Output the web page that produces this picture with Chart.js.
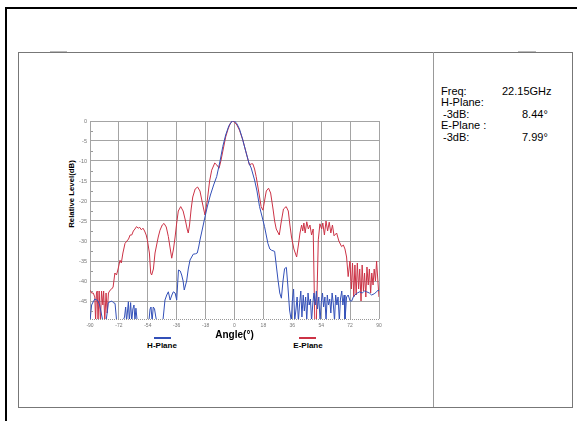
<!DOCTYPE html>
<html>
<head>
<meta charset="utf-8">
<script src="https://cdn.jsdelivr.net/npm/chart.js@4.4.0/dist/chart.umd.min.js"></script>
<style>
body{margin:0;background:#fff;width:577px;height:421px;position:relative;overflow:hidden;font-family:"Liberation Sans",Arial,sans-serif;color:#000}
.abs{position:absolute;white-space:nowrap}
#frameTop{left:5px;top:7px;width:572px;height:2px;background:#000}
#frameLeft{left:5px;top:7px;width:2px;height:414px;background:#000}
#box{left:18px;top:52px;width:553px;height:354px;border:1px solid #777}
#divider{left:433px;top:52px;width:1px;height:355px;background:#999}
.stub{height:1px;background:#bbb;top:51px}
.info{font-size:11px;line-height:13px}
.leg{font-size:8px;font-weight:bold;line-height:10px;transform:translateX(-50%)}
#ytitle{left:72px;top:194px;font-size:7.8px;font-weight:bold;line-height:10px;transform:translate(-50%,-50%) rotate(-90deg)}
#chartBox{left:60px;top:112px;width:330px;height:250px}
</style>
</head>
<body>
<div class="abs" id="frameTop"></div>
<div class="abs" id="frameLeft"></div>
<div class="abs" id="box"></div>
<div class="abs" id="divider"></div>
<div class="abs stub" style="left:50px;width:17px"></div>
<div class="abs stub" style="left:518px;width:18px"></div>

<div class="abs info" style="left:441px;top:85px">Freq:</div>
<div class="abs info" style="left:502px;top:85px">22.15GHz</div>
<div class="abs info" style="left:441px;top:96px">H-Plane:</div>
<div class="abs info" style="left:443px;top:108px">-3dB:</div>
<div class="abs info" style="left:522px;top:108px">8.44°</div>
<div class="abs info" style="left:441px;top:119px">E-Plane :</div>
<div class="abs info" style="left:443px;top:131px">-3dB:</div>
<div class="abs info" style="left:522px;top:131px">7.99°</div>

<div class="abs" id="ytitle">Relative Level(dB)</div>

<div class="abs" style="left:154px;top:337px;width:17px;height:2px;background:#3350b8"></div>
<div class="abs leg" style="left:162px;top:341px">H-Plane</div>
<div class="abs" style="left:299px;top:337px;width:17px;height:2px;background:#cc3346"></div>
<div class="abs leg" style="left:308px;top:341px">E-Plane</div>

<div class="abs" id="chartBox"><canvas id="mycanvas" width="330" height="250"></canvas></div>

<script>
// H-Plane (blue) angle / level pairs
var hAngle = [-90,-89,-88,-87,-86,-85,-84,-83,-82,-80,-79,-78.6,-77.5,-76.5,-75.5,-74.4,-73.4,-69.5,-68.5,-67.8,-67.2,-66.1,-65.5,-64.7,-64,-63.3,-62.6,-62,-61.4,-60.6,
  -53.3,-52.6,-52,-51.3,-50.6,-49.8,-49,-48.5,-44.6,-43.3,-42.2,-41.2,-40.1,-39,-38.1,-37,-36,-34.9,-33.8,-32.9,-32,-31.3,-29.8,-28.8,-27.7,-25.7,-24.3,-23.2,-22.3,-21.5,
  -20,-18.8,-17,-15,-13,-11.1,-9,-7.3,-5.5,-3.5,-1.5,0,1.5,3.1,5,7.3,9,10.4,12.5,14,15.6,17.7,18.7,20,20.8,22,23,25,26,27.1,28.2,29.2,30.2,31.2,32.3,33.2,34.3,35.4,
  36,36.8,37.5,38.3,39,39.8,40.5,41.3,42,42.8,43.5,44.3,45,45.8,46.5,47.3,48,48.8,49.5,50.3,51,51.7,52.5,53.3,54,54.8,55.5,56.3,57,57.8,58.5,59.3,60,60.8,61.5,62.3,
  63,63.8,64.5,65.3,66,66.8,67.5,68.3,68.8,69.8,70.8,72,73,74,75,76.5,78,79.5,81,82.3,84,85.4,87,88.5,89.5,90];
var hLevel = [-50,-46,-45.2,-44.5,-44.7,-45,-46,-48,-50,-50,-47,-45.4,-45.2,-45,-45.4,-45.6,-50,-50,-49,-46.5,-50,-45.2,-50,-45.4,-50,-47,-46,-50,-46.8,-50,
  -50,-47,-46.5,-50,-46.5,-47,-49,-50,-50,-44.75,-43.5,-42.7,-44.75,-43.5,-42.7,-43,-44.75,-37.25,-37.5,-38.5,-40,-42.25,-40,-37,-34.75,-33.3,-33.2,-33,-31.5,-29.75,
  -27,-24.75,-21.5,-18.5,-16,-13.9,-10,-6.4,-3.5,-1.2,0,0,-0.7,-2,-4.5,-8,-10.5,-11.75,-14.75,-17.5,-21.4,-24.75,-26.4,-29,-30.6,-32,-32.3,-32.6,-36,-39.75,-43,-44.3,-40,-36.9,-36.6,-41,-47.25,-50,
  -45,-42,-50,-47,-44,-50,-46,-42.5,-49,-43.5,-47.5,-44,-50,-43,-46,-44.5,-50,-45.5,-43,-46,-42.5,-47,-44,-50,-45.5,-43,-46.5,-44,-50,-43.5,-46,-44.5,-48,-43,-45.5,-50,
  -43.5,-46,-44,-50,-44.5,-42.5,-46,-43.5,-50,-44,-43.5,-45,-45,-44,-43.5,-43,-42.7,-43,-42.5,-42.7,-43,-43.5,-43.2,-42.7,-42.25,-42.5];

// E-Plane (red)
var eAngle = [-90,-89,-88,-87,-86.5,-86,-85.5,-85,-84.3,-83.5,-82.8,-82,-81.5,-80.8,-80,-79.3,-78.5,-77.5,-76.5,-75.6,-74.5,-73.5,-72.5,-71.3,-70.5,-69.5,-68.2,-67,-66,-65,
  -64,-63,-62,-61,-60,-59,-58,-57,-56,-55,-54.3,-53,-52.2,-51.6,-50.5,-49.5,-48.5,-47.5,-46.4,-45,-43.9,-42.5,-41.2,-40,-39.1,-38,-37,-36,-35,-33.5,
  -32,-30.5,-29.5,-28.8,-28,-27,-26,-24.5,-23,-21.5,-20,-18.4,-17,-15.5,-14.2,-12.3,-11,-9.6,-8.5,-7,-5.5,-4,-2.5,-1.2,0,1.5,3.1,5,7.3,9.3,
  10.5,11.4,12.5,13.5,15,16.6,17.7,18.7,19.8,21.2,22.5,24,25,26,27.9,29,30.5,32.2,33.5,34.5,35.5,37,38.7,39.8,40.8,41.8,42.5,43.2,44,45,
  46,47,48,49,50,51,52.2,53.2,54.3,55,56,57,58,59,60,61,62,63.6,65,66.7,67.8,68.8,69.8,70.8,71.9,72.8,73.5,74.3,75,75.8,
  76.5,77.3,78,78.8,79.5,80.3,81,81.8,82.5,83.3,84,84.8,85.5,86.3,87,87.8,88.5,89.3,90];
var eLevel = [-42.3,-43,-43,-44,-50,-43,-42.5,-50,-42.5,-50,-42.5,-46,-42.5,-50,-43,-48,-43,-42.3,-42,-41.5,-38,-38.5,-37,-34.8,-35.5,-33,-30.6,-30,-29.5,-28.5,
  -28.5,-27.5,-27,-26.4,-26.8,-26.6,-27.2,-26.8,-27.5,-28.5,-29.7,-33,-38,-38.5,-37,-33,-31,-29,-27.3,-26,-25.6,-26.5,-28.9,-32,-34.3,-32,-29,-25.5,-22.5,-21.4,
  -22.5,-25,-27,-28,-26,-22,-19,-17,-16.5,-17.5,-20.5,-23.5,-20,-15,-12.3,-10.5,-11,-11.8,-10,-7,-4,-2,-0.5,0,-0.3,-1,-2.3,-4.5,-8,-11,
  -10.7,-10.7,-12,-13.9,-17.5,-21.4,-22.3,-20,-17.5,-16.8,-18,-22,-25,-27,-28.5,-25.5,-22,-21.4,-22.5,-26,-29,-32,-34,-31,-28,-26,-27.5,-25.5,-28,-25.2,
  -27,-26,-28.5,-27,-50,-50,-29.7,-25.7,-27,-25.5,-28.5,-25,-27.5,-25.3,-28,-26,-28.7,-28,-30,-31.4,-31,-32,-34,-38.9,-35,-42,-35.5,-44,-36,-43.5,
  -35.5,-42,-37,-45,-36,-42.5,-38,-44,-36.5,-41,-37,-43,-38,-41,-37,-40,-35,-40,-44];

var xTicks = [-90,-72,-54,-36,-18,0,18,36,54,72,90];
var yTicks = [0,-5,-10,-15,-20,-25,-30,-35,-40,-45];

function pairs(a, v) {
  var out = [];
  for (var i in a) out.push({x: a[i], y: v[i]});
  return out;
}

// minor ticks on the left axis and the dotted bottom edge of the plot
var axisExtras = {
  id: 'axisExtras',
  afterDraw: function(chart) {
    var c = chart.ctx, y = chart.scales.y, a = chart.chartArea;
    c.save();
    c.strokeStyle = '#999';
    c.lineWidth = 1;
    for (var v = -2.5; v > -49.5; v -= 5) {
      var py = Math.round(y.getPixelForValue(v)) + 0.5;
      c.beginPath(); c.moveTo(a.left + 1, py); c.lineTo(a.left + 3, py); c.stroke();
    }
    c.setLineDash([1, 1]);
    c.beginPath(); c.moveTo(a.left, a.bottom + 0.5); c.lineTo(a.right, a.bottom + 0.5); c.stroke();
    c.restore();
  }
};

var ctx = document.getElementById('mycanvas');
var PolarCut = new Chart(ctx, {
  type: 'line',
  data: {
    datasets: [
      {label: 'H-Plane', data: pairs(hAngle, hLevel), borderColor: '#3350b8', borderWidth: 1, pointRadius: 0, fill: false, tension: 0},
      {label: 'E-Plane', data: pairs(eAngle, eLevel), borderColor: '#cc3346', borderWidth: 1, pointRadius: 0, fill: false, tension: 0}
    ]
  },
  options: {
    responsive: false,
    animation: false,
    layout: {padding: {top: 9, right: 11, left: 0, bottom: 0}},
    plugins: {legend: {display: false}, tooltip: {enabled: false}},
    scales: {
      x: {
        type: 'linear', min: -90, max: 90,
        afterBuildTicks: function(s) { s.ticks = xTicks.map(function(v) { return {value: v}; }); },
        afterFit: function(s) { s.height = 43; },
        ticks: {font: {size: 5, family: 'Liberation Sans'}, color: '#777', padding: 4, maxRotation: 0, autoSkip: false},
        grid: {color: '#a4a4a4', drawTicks: false},
        border: {display: false},
        title: {display: true, text: 'Angle(°)', color: '#000', font: {size: 10, weight: 'bold', family: 'Liberation Sans'}, padding: {top: 0, bottom: 21}}
      },
      y: {
        min: -49.5, max: 0,
        afterBuildTicks: function(s) { s.ticks = yTicks.map(function(v) { return {value: v}; }); },
        afterFit: function(s) { s.width = 30; },
        ticks: {font: {size: 5.5, family: 'Liberation Sans'}, color: '#777', padding: 3, autoSkip: false},
        grid: {color: '#a4a4a4', drawTicks: false},
        border: {color: '#a4a4a4'}
      }
    }
  },
  plugins: [axisExtras]
});
</script>
</body>
</html>
